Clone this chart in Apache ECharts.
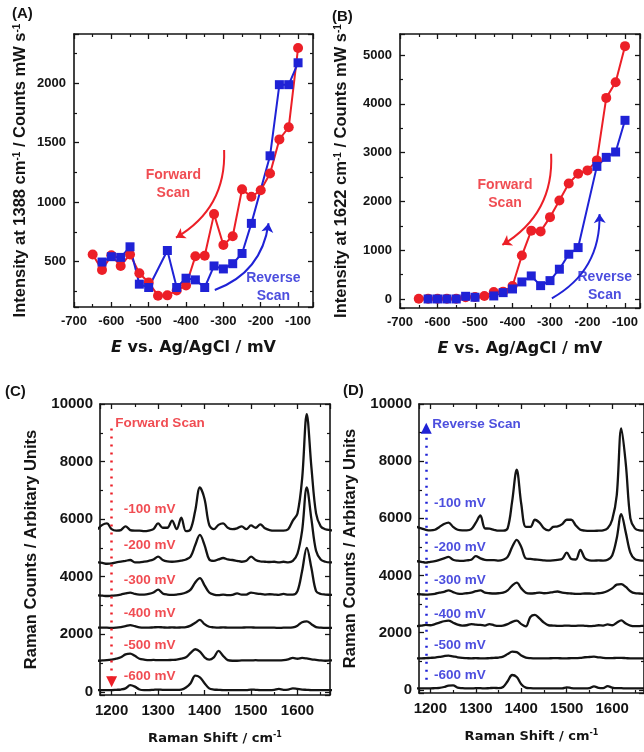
<!DOCTYPE html>
<html>
<head>
<meta charset="utf-8">
<script src="https://cdn.jsdelivr.net/npm/echarts@6/dist/echarts.min.js"></script>
<style>
  html, body { margin: 0; padding: 0; background: #fff; }
  #chart { width: 644px; height: 752px; }
</style>
</head>
<body>
<div id="chart"></div>
<script>
// (A)/(B) potentials, mV
const potentialFwd = [-650, -625, -600, -575, -550, -525, -500, -475, -450, -425, -400, -375, -350, -325, -300, -275, -250, -225, -200, -175, -150, -125, -100];
const potentialRev = [-625, -600, -575, -550, -525, -500, -450, -425, -400, -375, -350, -325, -300, -275, -250, -225, -175, -150, -125, -100];

// intensity at 1388 cm-1
const i1388Fwd = [561, 431, 553, 464, 561, 403, 325, 214, 217, 258, 300, 545, 550, 900, 640, 714, 1108, 1046, 1100, 1242, 1528, 1630, 2296];
const i1388Rev = [497, 542, 536, 625, 311, 283, 594, 283, 361, 347, 283, 464, 439, 483, 569, 822, 1390, 1988, 1988, 2172];

// intensity at 1622 cm-1
const i1622Fwd = [5, 5, 5, 5, 5, 35, 40, 62, 144, 150, 267, 890, 1400, 1385, 1677, 2019, 2368, 2567, 2635, 2840, 4121, 4442, 5181];
const i1622Rev = [0, 0, 0, 0, 55, 35, 62, 130, 205, 349, 472, 273, 376, 610, 917, 1053, 2717, 2902, 3012, 3661];

// (C)/(D) Raman shift, cm-1
const ramanShift = [
  1170, 1180, 1190, 1200, 1210, 1220, 1230, 1240, 1250, 1260,
  1270, 1280, 1290, 1300, 1310, 1320, 1330, 1340, 1350, 1360,
  1370, 1380, 1390, 1400, 1410, 1420, 1430, 1440, 1450, 1460,
  1470, 1480, 1490, 1500, 1510, 1520, 1530, 1540, 1550, 1560,
  1570, 1580, 1590, 1600, 1610, 1620, 1630, 1640, 1650, 1660,
  1670, 1680];

// forward scan spectra (already offset as plotted)
const fwd100 = [
  5650, 5800, 5850, 5650, 5600, 5620, 5750, 5620, 5600, 5600,
  5580, 5600, 5650, 5850, 5700, 5700, 5950, 5650, 6050, 5580,
  5650, 6300, 7100, 6700, 5800, 5650, 5800, 5850, 5700, 5650,
  5680, 5750, 5650, 5780, 5700, 5820, 5680, 5620, 5600, 5600,
  5600, 5650, 5950, 6200, 7400, 9650, 7800, 6200, 5750, 5650,
  5620, 5600];
const fwd200 = [
  4500, 4480, 4450, 4460, 4500, 4520, 4550, 4580, 4500, 4500,
  4520, 4550, 4600, 4700, 4580, 4530, 4520, 4530, 4560, 4600,
  4700, 5100, 5450, 5100, 4600, 4550, 4600, 4650, 4600, 4580,
  4550, 4520, 4550, 4700, 4580, 4530, 4520, 4510, 4520, 4500,
  4520, 4500, 4550, 4800, 5600, 7100, 6000, 4900, 4600, 4520,
  4500, 4500];
const fwd300 = [
  3350, 3340, 3330, 3340, 3350, 3380, 3420, 3450, 3400, 3380,
  3380, 3400, 3450, 3550, 3420, 3380, 3370, 3380, 3400, 3450,
  3550, 3800, 3950, 3700, 3450, 3380, 3360, 3380, 3360, 3370,
  3420, 3380, 3380, 3450, 3420, 3400, 3380, 3390, 3380, 3370,
  3400, 3380, 3380, 3500, 4200, 5000, 4300, 3500, 3400, 3380,
  3370, 3360];
const fwd400 = [
  2230, 2230, 2230, 2220, 2230, 2250, 2280, 2320, 2280, 2240,
  2230, 2230, 2240, 2250, 2240, 2230, 2240, 2230, 2240, 2250,
  2300, 2400, 2500, 2350, 2260, 2240, 2230, 2240, 2230, 2230,
  2230, 2230, 2240, 2240, 2230, 2230, 2230, 2230, 2230, 2220,
  2230, 2230, 2240, 2300, 2420, 2450, 2350, 2250, 2230, 2220,
  2220, 2220];
const fwd500 = [
  1080, 1090, 1100, 1120, 1150, 1200, 1300, 1330, 1250, 1150,
  1120, 1100, 1110, 1100, 1100, 1100, 1110, 1120, 1150, 1200,
  1350, 1480, 1400, 1200, 1120, 1200, 1420, 1250, 1100, 1080,
  1080, 1090, 1090, 1090, 1100, 1090, 1090, 1090, 1090, 1090,
  1100, 1130, 1180, 1150, 1180, 1160, 1130, 1110, 1090, 1080,
  1090, 1090];
const fwd600 = [
  60, 60, 60, 60, 70, 80, 120, 230, 180, 80,
  60, 60, 70, 80, 70, 70, 70, 70, 80, 150,
  300, 560, 500, 300, 120, 80, 70, 60, 60, 60,
  60, 60, 60, 80, 70, 60, 60, 60, 70, 100,
  70, 80, 120, 100, 80, 70, 60, 60, 60, 60,
  60, 60];

// reverse scan spectra
const rev100 = [
  5700, 5650, 5600, 5580, 5600, 5700, 5800, 5850, 5700, 5600,
  5580, 5580, 5620, 5850, 6100, 5650, 5640, 5600, 5570, 5570,
  5650, 6600, 7700, 6500, 5700, 5700, 5950, 5850, 5650, 5580,
  5700, 5720, 5800, 5950, 5950, 5750, 5600, 5570, 5560, 5560,
  5570, 5580, 5650, 5950, 6800, 9150, 7900, 6000, 5650, 5580,
  5570, 5570];
const rev200 = [
  4500, 4480, 4450, 4480, 4500, 4550, 4600, 4650, 4550, 4520,
  4510, 4530, 4550, 4680, 4600, 4550, 4540, 4540, 4520, 4550,
  4650, 5000, 5250, 5000, 4600, 4580, 4560, 4550, 4530, 4520,
  4530, 4550, 4580, 4800, 4580, 4560, 4900, 4600, 4530, 4520,
  4530, 4520, 4550, 4700, 5300, 6150, 5500, 4800, 4570, 4530,
  4520, 4520];
const rev300 = [
  3350, 3340, 3330, 3340, 3360, 3400, 3430, 3480, 3420, 3370,
  3360, 3380, 3400, 3450, 3480, 3400, 3380, 3370, 3380, 3400,
  3480, 3650, 3750, 3550, 3400, 3370, 3380, 3400, 3380, 3390,
  3420, 3440, 3400, 3380, 3370, 3360, 3360, 3370, 3370, 3360,
  3380, 3400, 3460, 3550, 3680, 3700, 3600, 3450, 3380, 3370,
  3360, 3360];
const rev400 = [
  2230, 2250, 2270, 2260, 2300, 2350, 2400, 2420, 2350, 2280,
  2250, 2260, 2300, 2280, 2270, 2250, 2300, 2260, 2240, 2250,
  2300, 2380, 2420, 2300, 2220, 2550, 2620, 2500, 2350, 2260,
  2250, 2240, 2240, 2250, 2240, 2240, 2250, 2240, 2230, 2240,
  2260, 2250, 2290, 2260, 2350, 2430, 2320, 2250, 2230, 2230,
  2240, 2230];
const rev500 = [
  1100, 1100, 1110, 1120, 1130, 1150, 1180, 1200, 1170, 1140,
  1120, 1110, 1100, 1110, 1100, 1100, 1110, 1120, 1130, 1160,
  1250, 1340, 1320, 1200, 1130, 1110, 1100, 1100, 1100, 1100,
  1110, 1110, 1100, 1100, 1110, 1110, 1120, 1140, 1150, 1160,
  1140, 1120, 1110, 1110, 1120, 1120, 1110, 1100, 1100, 1100,
  1100, 1100];
const rev600 = [
  50, 50, 50, 50, 60, 70, 100, 150, 160, 80,
  60, 50, 50, 60, 60, 50, 60, 70, 60, 100,
  300, 520, 450, 200, 80, 60, 50, 50, 50, 50,
  50, 50, 50, 90, 60, 50, 50, 50, 60, 120,
  70, 60, 130, 80, 60, 60, 50, 50, 50, 50,
  50, 50];

const potentialLabels = ['-100 mV', '-200 mV', '-300 mV', '-400 mV', '-500 mV', '-600 mV'];
const fwdLabelY = [6340, 5100, 3880, 2720, 1620, 545];
const revLabelY = [6520, 4980, 3820, 2660, 1560, 520];

const RED = '#ec1f27';
const BLUE = '#1f22d6';
const INK = '#141414';
const FONT = '"Liberation Sans", Arial, sans-serif';
const WIDE_FONT = '"DejaVu Sans", sans-serif';

const chart = echarts.init(document.getElementById('chart'), null, { renderer: 'canvas' });

const pairs = (xs, ys) => xs.map((x, i) => [x, ys[i]]);

const grids = [
  { left: 74, top: 34, width: 239, height: 273 },
  { left: 400, top: 34, width: 240, height: 274 },
  { left: 100, top: 404, width: 230, height: 291 },
  { left: 419, top: 404, width: 230, height: 289 }
];

function richFor(font, size) {
  return {
    sup: { fontSize: Math.round(size * 0.62), fontWeight: 'bold', fontFamily: font, color: INK, verticalAlign: 'top', padding: [0, 0, 7, 0] },
    it: { fontSize: size, fontWeight: 'bold', fontStyle: 'italic', fontFamily: font, color: INK }
  };
}

function axisPair(dim, g, min, max, o) {
  const base = {
    gridIndex: g, type: 'value', min: min, max: max, scale: true,
    splitLine: { show: false },
    axisLine: { show: true, onZero: false, lineStyle: { color: INK, width: 1.6 } },
    axisTick: { show: true, inside: true, length: 5, lineStyle: { color: INK, width: 1.3 } },
    minorTick: { show: true, splitNumber: 2, length: 3, lineStyle: { color: INK, width: 1.2 } }
  };
  const main = Object.assign({}, base, {
    position: dim === 'x' ? 'bottom' : 'left',
    axisLabel: {
      color: INK, fontSize: o.labelSize, fontWeight: 'bold', fontFamily: FONT,
      margin: o.labelMargin, showMinLabel: o.showMin, showMaxLabel: o.showMax,
      formatter: v => String(v)
    },
    name: o.name, nameLocation: 'middle', nameGap: o.nameGap,
    nameTextStyle: { color: INK, fontSize: o.nameSize, fontWeight: 'bold', fontFamily: o.nameFont, rich: richFor(o.nameFont, o.nameSize) }
  });
  const mirror = Object.assign({}, base, {
    position: dim === 'x' ? 'top' : 'right',
    axisLabel: { show: false }
  });
  return [main, mirror];
}

const eName = '{it|E} vs. Ag/AgCl / mV';
const shiftName = 'Raman Shift / cm{sup|-1}';
const countsName = 'Raman Counts / Arbitary Units';

const xAxes = [].concat(
  axisPair('x', 0, -700, -60, { labelSize: 13, labelMargin: 8, showMin: true, showMax: false, name: eName, nameGap: 33, nameSize: 16, nameFont: WIDE_FONT }),
  axisPair('x', 1, -700, -60, { labelSize: 13, labelMargin: 8, showMin: true, showMax: false, name: eName, nameGap: 33, nameSize: 16, nameFont: WIDE_FONT }),
  axisPair('x', 2, 1175, 1670, { labelSize: 15, labelMargin: 8, showMin: false, showMax: false, name: shiftName, nameGap: 36, nameSize: 13, nameFont: WIDE_FONT }),
  axisPair('x', 3, 1175, 1670, { labelSize: 15, labelMargin: 8, showMin: false, showMax: false, name: shiftName, nameGap: 36, nameSize: 13, nameFont: WIDE_FONT })
);
const yAxes = [].concat(
  axisPair('y', 0, 119, 2414, { labelSize: 13, labelMargin: 8, showMin: false, showMax: false, name: 'Intensity at 1388 cm{sup|-1} / Counts mW s{sup|-1}', nameGap: 45, nameSize: 16.5, nameFont: FONT }),
  axisPair('y', 1, -185, 5430, { labelSize: 13, labelMargin: 8, showMin: false, showMax: false, name: 'Intensity at 1622 cm{sup|-1} / Counts mW s{sup|-1}', nameGap: 50, nameSize: 16.5, nameFont: FONT }),
  axisPair('y', 2, -110, 10000, { labelSize: 15, labelMargin: 7, showMin: false, showMax: true, name: countsName, nameGap: 60, nameSize: 16.5, nameFont: FONT }),
  axisPair('y', 3, -110, 10000, { labelSize: 15, labelMargin: 7, showMin: false, showMax: true, name: countsName, nameGap: 60, nameSize: 16.5, nameFont: FONT })
);

function trend(g, xs, ys, color, symbol, size) {
  return {
    type: 'line', xAxisIndex: 2 * g, yAxisIndex: 2 * g,
    data: pairs(xs, ys), symbol: symbol, symbolSize: size, showSymbol: true,
    lineStyle: { color: color, width: 2 }, itemStyle: { color: color },
    silent: true, animation: false
  };
}

function spectrum(g, ys) {
  return {
    type: 'line', xAxisIndex: 2 * g, yAxisIndex: 2 * g,
    data: pairs(ramanShift, ys), showSymbol: false, smooth: 0.35,
    lineStyle: { color: INK, width: 2.3 }, silent: true, animation: false, clip: true
  };
}

function arrow(g, from, to, color, curveness, symbol, dashed) {
  return {
    type: 'lines', coordinateSystem: 'cartesian2d', xAxisIndex: 2 * g, yAxisIndex: 2 * g,
    symbol: ['none', symbol], symbolSize: symbol === 'triangle' ? 11 : 9,
    lineStyle: { color: color, width: dashed ? 2.5 : 2, curveness: curveness, type: dashed ? [2, 6] : 'solid', opacity: 1 },
    itemStyle: { color: color },
    data: [{ coords: [from, to] }], silent: true, animation: false, z: 4
  };
}

function note(g, items, color, size, pos) {
  return {
    type: 'scatter', xAxisIndex: 2 * g, yAxisIndex: 2 * g, symbolSize: 1,
    itemStyle: { color: 'transparent' }, silent: true, animation: false, z: 5,
    data: items.map(it => ({ value: it[0], name: it[1] })),
    label: {
      show: true, position: pos, distance: 0, formatter: '{b}', color: color,
      fontSize: size, fontWeight: 'bold', fontFamily: FONT, lineHeight: size + 4, align: pos === 'inside' ? 'center' : 'left'
    }
  };
}

const series = [
  // (A)
  trend(0, potentialFwd, i1388Fwd, RED, 'circle', 10),
  trend(0, potentialRev, i1388Rev, BLUE, 'rect', 9),
  arrow(0, [-298, 1439], [-427, 702], RED, 0.3, 'arrow', false),
  arrow(0, [-323, 262], [-179, 823], BLUE, -0.3, 'arrow', false),
  note(0, [[[-434, 1150], 'Forward\nScan']], RED, 14, 'inside'),
  note(0, [[[-166, 290], 'Reverse\nScan']], BLUE, 14, 'inside'),
  // (B)
  trend(1, potentialFwd, i1622Fwd, RED, 'circle', 10),
  trend(1, potentialRev, i1622Rev, BLUE, 'rect', 9),
  arrow(1, [-297, 2977], [-427, 1109], RED, 0.3, 'arrow', false),
  arrow(1, [-295, 14], [-168, 1739], BLUE, -0.3, 'arrow', false),
  note(1, [[[-420, 2140], 'Forward\nScan']], RED, 14, 'inside'),
  note(1, [[[-154, 265], 'Reverse\nScan']], BLUE, 14, 'inside'),
  // (C)
  spectrum(2, fwd100), spectrum(2, fwd200), spectrum(2, fwd300),
  spectrum(2, fwd400), spectrum(2, fwd500), spectrum(2, fwd600),
  arrow(2, [1200, 9150], [1200, 350], RED, 0, 'triangle', true),
  note(2, [[[1207, 9330], 'Forward Scan']], RED, 13.5, 'right'),
  note(2, potentialLabels.map((t, i) => [[1225, fwdLabelY[i]], t]), RED, 13.5, 'right'),
  // (D)
  spectrum(3, rev100), spectrum(3, rev200), spectrum(3, rev300),
  spectrum(3, rev400), spectrum(3, rev500), spectrum(3, rev600),
  arrow(3, [1191, 350], [1191, 9150], BLUE, 0, 'triangle', true),
  note(3, [[[1203, 9300], 'Reverse Scan']], BLUE, 13.5, 'right'),
  note(3, potentialLabels.map((t, i) => [[1207, revLabelY[i]], t]), BLUE, 13.5, 'right')
];

const panelTitle = (text, left, top) => ({
  type: 'text', left: left, top: top,
  style: { text: text, fill: INK, font: 'bold 15px "Liberation Sans", Arial, sans-serif' }
});

chart.setOption({
  animation: false,
  backgroundColor: '#ffffff',
  grid: grids,
  xAxis: xAxes,
  yAxis: yAxes,
  series: series,
  graphic: [
    panelTitle('(A)', 12, 6),
    panelTitle('(B)', 332, 9),
    panelTitle('(C)', 5, 384),
    panelTitle('(D)', 343, 383)
  ]
});
</script>
</body>
</html>
